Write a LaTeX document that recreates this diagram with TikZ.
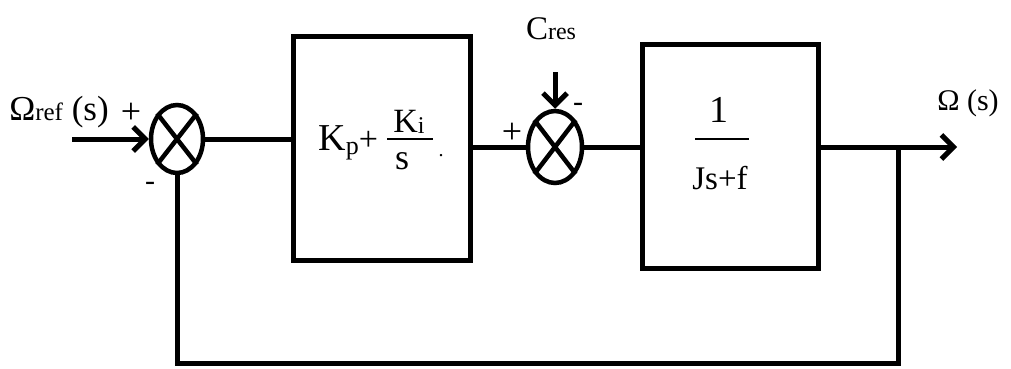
\documentclass[tikz,border=0pt]{standalone}
\usepackage{fontspec}
\setmainfont{Liberation Serif}
\usetikzlibrary{arrows.meta,shapes.geometric}
\newcommand\fsz[1]{\fontsize{#1}{#1}\selectfont}
\begin{document}
\begin{tikzpicture}[x=1pt,y=-1pt,line width=5pt,
  sumj/.style={draw,ellipse,line width=4.5pt,inner sep=0pt,minimum width=52pt,minimum height=68pt},
  blk/.style={draw,rectangle,line width=5pt,inner sep=0pt},
  arr/.style={-{Straight Barb[length=12pt,width=24pt]}},
  lbl/.style={inner sep=0pt},
  xline/.style={line width=4.5pt},
  bar/.style={line width=2.5pt}]
\useasboundingbox (0,0) rectangle (1011,369);
% summing junctions
\node[sumj] (s1) at (177,139) {};
\draw[xline] (s1.north east) -- (s1.south west) (s1.north west) -- (s1.south east);
\node[sumj,minimum width=54pt,minimum height=72pt] (s2) at (555,147) {};
\draw[xline] (s2.north east) -- (s2.south west) (s2.north west) -- (s2.south east);
% blocks
\node[blk,minimum width=177pt,minimum height=223pt] (pi) at (381.5,148.5) {};
\node[blk,minimum width=176pt,minimum height=223pt] (tf) at (730,156.5) {};
% coordinates
\coordinate (in) at (72,139);
\coordinate (cin) at (555,72);
\coordinate (out) at (957,147);
\coordinate (br) at (898,147);
\coordinate (bot) at (898,363);
% connectors
\draw[arr] (in) -- (s1.west);
\draw (s1.east) -- (s1.east -| pi.west);
\draw (pi.east |- s2.west) -- (s2.west);
\draw[arr] (cin) -- (s2.north);
\draw (s2.east) -- (s2.east -| tf.west);
\draw[arr] (s2.east -| tf.east) -- (out);
\draw (br) -- (bot) -| (s1.south);
% labels
\node[lbl,anchor=base] (lref) at (59,120) {\fsz{35}Ω\fsz{25}ref\fsz{35} (s)};
\node[lbl] (p1) at (131,113) {\fsz{36}+};
\node[lbl] (m1) at (150,186) {\fsz{30}-};
\node[lbl,anchor=base west] (kp) at (316,150) {\fsz{38}K\raisebox{-4pt}{\fsz{26}p}\fsz{34}+};
\node[lbl,anchor=base] (ki) at (409,132) {\fsz{34}K\raisebox{-1.5pt}{\fsz{24}i}};
\draw[bar] (387,139) -- (433,139);
\node[lbl,anchor=base] (ks) at (402,169) {\fsz{36}s};
\node[lbl,anchor=base] (dot) at (441,156) {\fsz{20}.};
\node[lbl,anchor=base] (cres) at (551,40) {\fsz{33}C\fsz{24}res};
\node[lbl] (p2) at (512,133) {\fsz{36}+};
\node[lbl] (m2) at (578,107) {\fsz{30}-};
\node[lbl,anchor=base] (one) at (719,122) {\fsz{38}1};
\draw[bar] (695,139) -- (749,139);
\node[lbl,anchor=base] (den) at (720,189) {\fsz{33}Js+f};
\node[lbl,anchor=base] (lout) at (968,110) {\fsz{30}Ω (s)};
\end{tikzpicture}
\end{document}
